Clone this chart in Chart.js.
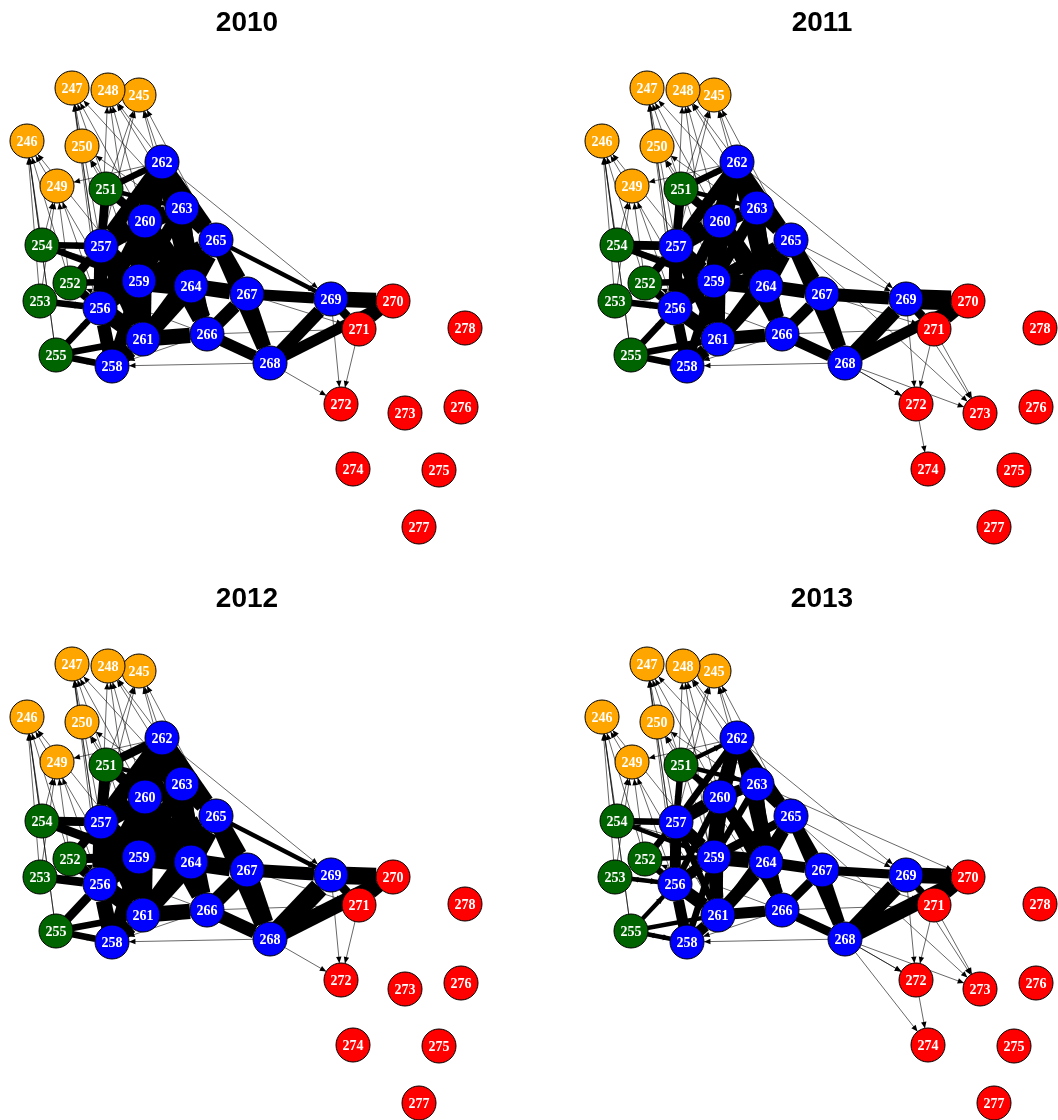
<!DOCTYPE html>
<html>
<head>
<meta charset="utf-8">
<script src="https://cdn.jsdelivr.net/npm/chart.js@4/dist/chart.umd.min.js"></script>
<style>
body{margin:0;background:#fff;}
#grid{width:1058px;height:1120px;display:grid;grid-template-columns:575px 483px;grid-template-rows:576px 544px;}
canvas{display:block;}
</style>
</head>
<body>
<div id="grid">
<canvas id="c0" width="575" height="576"></canvas>
<canvas id="c1" width="483" height="576"></canvas>
<canvas id="c2" width="575" height="544"></canvas>
<canvas id="c3" width="483" height="544"></canvas>
</div>
<script>
const years = ['2010','2011','2012','2013'];

// nodes: id, layout x, layout y, group
const nodeIds = [245,246,247,248,249,250,251,252,253,254,255,256,257,258,259,260,261,262,263,264,265,266,267,268,269,270,271,272,273,274,275,276,277,278];
const nodeX   = [139,27,72,108,57,82,106,70,40,42,56,100,101,112,139,145,143,162,182,191,216,207,247,270,331,393,359,341,405,353,439,461,419,465];
const nodeY   = [95,141,88,90,186,146,189,283,301,245,355,308,246,366,281,221,339,162,208,286,240,334,294,363,299,301,329,404,413,469,470,407,527,328];
const nodeGroup = ['o','o','o','o','o','o','g','g','g','g','g','b','b','b','b','b','b','b','b','b','b','b','b','b','b','r','r','r','r','r','r','r','r','r'];
const groupColor = {o:'#FFA500', g:'#006400', b:'#0000FF', r:'#FF0000'};

// edges: from, to, weight in 2010, 2011, 2012, 2013 (0 = no tie)
const edgeFrom = [257,257,259,260,262,263,259,264,260,261,256,256,258,261,264,264,265,266,267,266,265,262,262,267,268,269,268,269,270,260,259,263,257,258,
                  262,262,262,260,260,263,257,257,256,259,258,261,263,
                  251,251,251,252,252,254,253,255,255,255,252,254,251,
                  257,260,262,259,256,251,258,261,264,255,254,253,252,263,265,266,251,257,256,254,253,255,252,260,262,258,
                  261,259,257,256,263,262,265,264,258,266,
                  269,268,271,266,272,271,269,268,265,262,268,266,267,268,268,269,265,263];
const edgeTo   = [260,259,260,262,263,265,264,265,263,264,259,261,261,266,266,267,267,267,268,268,268,265,267,269,269,270,270,271,271,264,261,264,256,256,
                  259,264,257,261,266,259,263,261,260,265,259,265,266,
                  257,260,262,257,256,257,256,258,256,261,259,259,263,
                  247,248,245,246,249,250,247,248,245,246,246,246,249,247,245,250,245,248,247,249,249,246,246,247,248,247,
                  246,247,245,253,248,249,250,254,255,252,
                  272,272,272,271,274,273,273,273,269,269,258,258,271,274,272,270,273,270];
const w2010 = [8,8,9,9,8,7,9,8,7,8,7,8,7,7,8,7,7,6,6,5,6,6,5,5,6,7,5,4,4,8,8,7,6,6,
               7,7,6,7,6,6,6,6,6,7,5,6,5,
               4,4,3,4,4,3,3,3,3,3,3,3,2,
               1,1,1,1,1,1,1,1,1,1,1,1,1,1,1,1,1,1,1,1,1,1,1,1,1,1,
               1,1,1,1,1,1,1,1,1,1,
               1,1,1,1,0,0,0,0,2,1,1,1,1,0,0,0,0,0];
const w2011 = [8,7,8,8,7,7,8,7,6,7,6,7,6,6,7,6,6,5,6,5,6,5,5,6,7,9,5,4,5,7,7,6,6,5,
               6,6,5,6,5,5,5,5,5,6,4,5,4,
               4,4,3,4,4,4,3,3,3,3,3,3,2,
               1,1,1,1,1,1,1,1,1,1,1,1,1,1,1,1,1,1,1,1,1,1,1,1,1,1,
               1,1,1,1,1,1,1,1,1,1,
               1,1,1,1,1,1,1,1,1,1,1,1,1,0,1,0,1,0];
const w2012 = [9,9,10,9,8,8,9,9,8,8,8,8,7,7,8,8,8,7,8,6,8,7,6,6,9,8,7,4,4,9,9,8,7,7,
               8,8,7,8,7,7,7,7,7,8,6,7,6,
               5,5,4,4,5,4,4,3,4,3,4,4,2,
               1,1,1,1,1,1,1,1,1,1,1,1,1,1,1,1,1,1,1,1,1,1,1,1,1,1,
               1,1,1,1,1,1,1,1,1,1,
               1,1,1,1,0,0,0,0,2,1,1,1,1,0,0,0,0,0];
const w2013 = [6,6,7,6,6,5,7,6,5,6,5,6,5,5,6,5,5,4,5,4,5,4,4,4,8,7,7,3,4,6,6,5,5,5,
               4,4,3,4,3,3,3,3,3,4,3,3,3,
               3,3,2,3,3,3,2,2,2,2,2,2,2,
               1,1,1,1,1,1,1,1,1,1,1,1,1,1,1,1,1,1,1,1,1,1,1,1,1,1,
               1,1,1,1,1,1,1,1,1,1,
               1,1,1,1,1,1,1,1,1,1,1,1,1,1,1,1,1,1];
const yearWeights = [w2010,w2011,w2012,w2013];
const R = 17;

function networkPlugin(yi){
  return {
    id:'net'+yi,
    beforeDatasetsDraw(chart){
      const c = chart.ctx, xs = chart.scales.x, ys = chart.scales.y;
      const w = yearWeights[yi];
      c.save();
      c.strokeStyle = '#000'; c.fillStyle = '#000';
      for (let i = 0; i < edgeFrom.length; i++) {
        if (!w[i]) continue;
        const a = nodeIds.indexOf(edgeFrom[i]), b = nodeIds.indexOf(edgeTo[i]);
        const x1 = xs.getPixelForValue(nodeX[a]), y1 = ys.getPixelForValue(nodeY[a]);
        const x2 = xs.getPixelForValue(nodeX[b]), y2 = ys.getPixelForValue(nodeY[b]);
        const ang = Math.atan2(y2 - y1, x2 - x1);
        const ex = x2 - Math.cos(ang) * R, ey = y2 - Math.sin(ang) * R;
        c.lineWidth = w[i] <= 1 ? 0.6 : w[i] * 2.2;
        c.beginPath(); c.moveTo(x1, y1); c.lineTo(ex, ey); c.stroke();
        const h = 6 + w[i];
        c.beginPath();
        c.moveTo(ex, ey);
        c.lineTo(ex - h * Math.cos(ang - 0.4), ey - h * Math.sin(ang - 0.4));
        c.lineTo(ex - h * Math.cos(ang + 0.4), ey - h * Math.sin(ang + 0.4));
        c.closePath(); c.fill();
      }
      c.restore();
    },
    afterDatasetsDraw(chart){
      const c = chart.ctx, xs = chart.scales.x, ys = chart.scales.y;
      c.save();
      c.fillStyle = '#fff';
      c.font = 'bold 14px "Liberation Serif"';
      c.textAlign = 'center'; c.textBaseline = 'middle';
      nodeIds.forEach((id, i) => {
        c.fillText(String(id), xs.getPixelForValue(nodeX[i]), ys.getPixelForValue(nodeY[i]) + 1);
      });
      c.fillStyle = '#000';
      c.font = 'bold 28px "Liberation Sans"';
      c.fillText(years[yi], 247, 23);
      c.restore();
    }
  };
}

years.forEach((yr, yi) => {
  const cv = document.getElementById('c' + yi);
  new Chart(cv, {
    type: 'scatter',
    data: {
      datasets: [{
        data: nodeIds.map((id, i) => ({x: nodeX[i], y: nodeY[i]})),
        pointRadius: R,
        pointBackgroundColor: nodeGroup.map(g => groupColor[g]),
        pointBorderColor: '#000',
        pointBorderWidth: 1,
        clip: false
      }]
    },
    options: {
      responsive: false,
      animation: false,
      layout: {padding: 0, autoPadding: false},
      plugins: {legend: {display: false}, tooltip: {enabled: false}},
      scales: {
        x: {type: 'linear', min: 0, max: cv.width, display: false},
        y: {type: 'linear', min: 0, max: cv.height, reverse: true, display: false}
      }
    },
    plugins: [networkPlugin(yi)]
  });
});
</script>
</body>
</html>
